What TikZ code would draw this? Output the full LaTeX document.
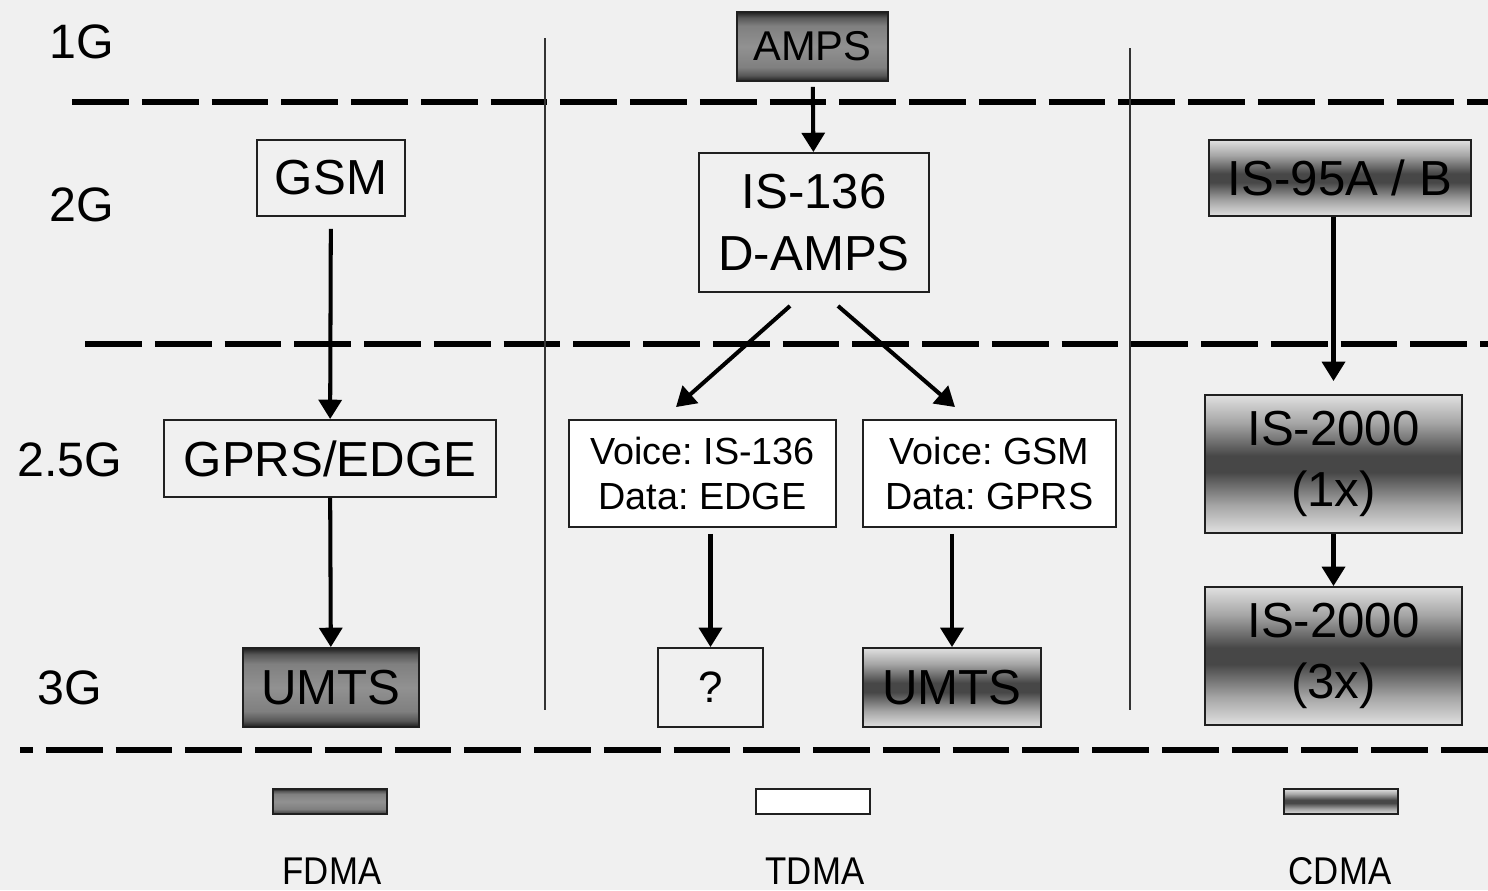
\documentclass[tikz,border=0pt]{standalone}
\usepackage{fontspec}
\setmainfont{Liberation Sans}
\newfontfamily\keyfamily[FakeStretch=0.9]{Liberation Sans}
\usetikzlibrary{arrows.meta,calc,positioning}
\frenchspacing

\definecolor{bg}{HTML}{F0F0F0}
\definecolor{edge}{HTML}{202020}

\newcommand\boxfont{\fontsize{28}{35}\selectfont}
\newcommand\voicefont{\fontsize{21.5}{25.5}\selectfont}
\newcommand\ampsfont{\fontsize{23.7}{28}\selectfont}
\newcommand\askfont{\fontsize{25}{28}\selectfont}
\newcommand\genfont{\fontsize{27.5}{32}\selectfont}
\newcommand\keyfont{\keyfamily\fontsize{22}{26}\selectfont}

% dark rim / grey core, and light rim / dark core
\pgfdeclareverticalshading{fdmashade}{100bp}{
  color(0bp)=(black!88); color(25bp)=(black!88); color(29bp)=(black!66);
  color(35bp)=(black!50); color(50bp)=(black!43); color(65bp)=(black!50);
  color(71bp)=(black!66); color(75bp)=(black!88); color(100bp)=(black!88)}
\pgfdeclareverticalshading{cdmashade}{100bp}{
  color(0bp)=(black!12); color(25bp)=(black!12); color(35bp)=(black!35);
  color(47bp)=(black!72); color(53bp)=(black!72); color(65bp)=(black!35);
  color(75bp)=(black!12); color(100bp)=(black!12)}

\tikzset{
    gen diagram/.style = {x=0.02cm, y=-0.02cm,
                          >={Triangle[length=11pt, width=13pt]}},
    box/.style         = {draw=edge, line width=1.1pt, inner sep=0pt,
                          align=center, font=\boxfont},
    plainbox/.style    = {box, fill=bg},
    whitebox/.style    = {box, fill=white, font=\voicefont},
    fdmabox/.style     = {box, shading=fdmashade},
    cdmabox/.style     = {box, shading=cdmashade},
    flow/.style        = {->, line width=2.3pt},
    gen/.style         = {font=\genfont},
    era/.style         = {line width=3.4pt, dash pattern=on 32.3pt off 7.4pt},
    column/.style      = {line width=1.1pt, draw=black!80},
    key/.style         = {draw=edge, line width=1.1pt,
                          minimum width=2.28cm, minimum height=0.5cm},
    keytext/.style     = {font=\keyfont, anchor=base}
}

\begin{document}
\begin{tikzpicture}[gen diagram]

\path[use as bounding box, fill=bg] (0,0) rectangle (1488,890);

% ================= Generation rows and columns =================
\draw[era] (72,102) -- (1488,102);
\draw[era] (85,344) -- (1488,344);
\draw[era, dash phase=25pt] (20,750) -- (1488,750);
\draw[column] (545,38) -- (545,710);
\draw[column] (1130,48) -- (1130,710);

\node[gen] (g1)  at (82,42)  {1G};
\node[gen] (g2)  at (82,205) {2G};
\node[gen] (g25) at (70,460) {2.5G};
\node[gen] (g3)  at (70,688) {3G};

% ================= FDMA column =================
\node[plainbox, minimum width=2.96cm, minimum height=1.52cm]
    (gsm) at (331,178) {GSM};
\node[plainbox, minimum width=6.64cm, minimum height=1.54cm]
    (gprs) at (330,458.5) {GPRS/EDGE};
\node[fdmabox, minimum width=3.52cm, minimum height=1.58cm]
    (umtsF) at (331,687.5) {UMTS};

% ================= TDMA column =================
\node[fdmabox, font=\ampsfont, minimum width=3.02cm, minimum height=1.38cm]
    (amps) at (812.5,46.5) {AMPS};
\node[plainbox, minimum width=4.6cm, minimum height=2.78cm]
    (is136) at (814,222.5) {IS-136\\D-AMPS};
\node[whitebox, minimum width=5.34cm, minimum height=2.14cm]
    (v136) at (702.5,473.5) {Voice: IS-136\\Data: EDGE};
\node[whitebox, minimum width=5.06cm, minimum height=2.14cm]
    (vgsm) at (989.5,473.5) {Voice: GSM\\Data: GPRS};
\node[plainbox, minimum width=2.1cm, minimum height=1.58cm, font=\askfont]
    (open) at (710.5,687.5) {?};
\node[cdmabox, minimum width=3.56cm, minimum height=1.58cm]
    (umtsT) at (952,687.5) {UMTS};

% ================= CDMA column =================
\node[cdmabox, minimum width=5.24cm, minimum height=1.52cm]
    (is95) at (1340,178) {IS-95A / B};
\node[cdmabox, minimum width=5.14cm, minimum height=2.76cm]
    (is2k1) at (1333.5,464) {IS-2000\\(1x)};
\node[cdmabox, minimum width=5.14cm, minimum height=2.76cm]
    (is2k3) at (1333.5,656) {IS-2000\\(3x)};

% ================= Evolution arrows =================
\draw[flow, shorten <=0.1cm] (amps) -- (is136);
\draw[flow, shorten <=0.24cm] (gsm) -- (gprs);
\draw[flow] (gprs) -- (umtsF);
\draw[flow] ($(is136.south)+(-24,13)$) -- ($(v136.north)+(-26.5,-12)$);
\draw[flow] ($(is136.south)+(24,13)$) -- ($(vgsm.north)+(-34.5,-12)$);
\draw[flow, shorten <=0.12cm] (open.north |- v136.south) -- (open.north);
\draw[flow, shorten <=0.12cm] (umtsT.north |- vgsm.south) -- (umtsT.north);
\draw[flow, shorten >=0.26cm] (is2k1.north |- is95.south) -- (is2k1.north);
\draw[flow] (is2k1) -- (is2k3);

% ================= Legend =================
\node[key, shading=fdmashade] (keyF) at (330,801.5) {};
\node[key, fill=white]        (keyT) at (813,801.5) {};
\node[key, shading=cdmashade] (keyC) at (1341,801.5) {};
\node[keytext] (keyFt) at (332,884)  {FDMA};
\node[keytext] (keyTt) at (815,884)  {TDMA};
\node[keytext] (keyCt) at (1340,884) {CDMA};

\end{tikzpicture}
\end{document}
